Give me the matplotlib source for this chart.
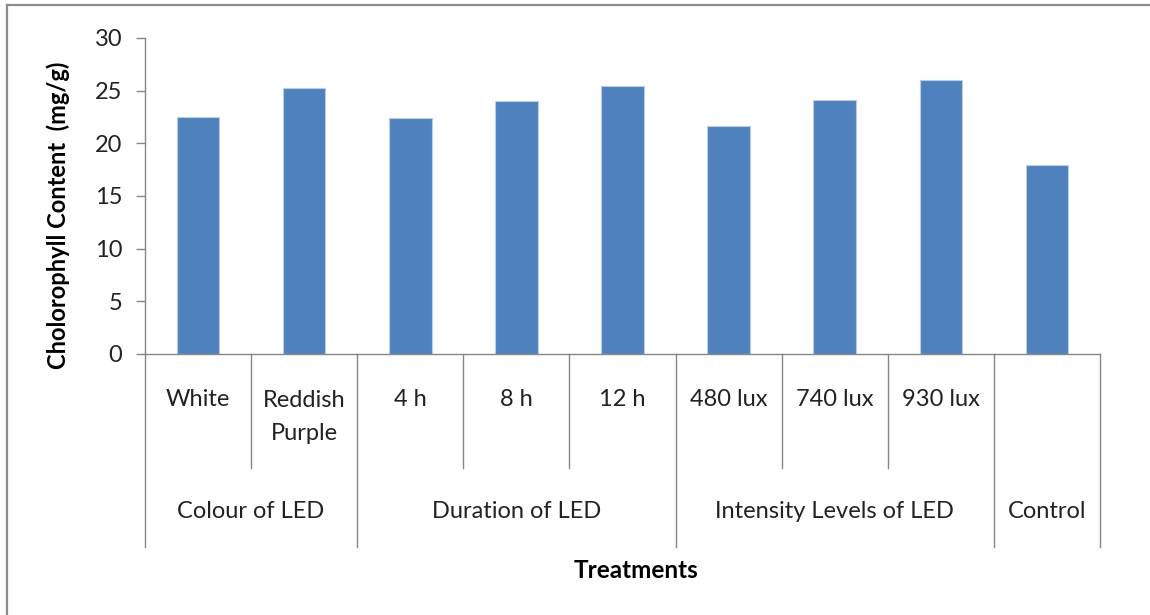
import matplotlib
matplotlib.use('Agg')
import matplotlib.pyplot as plt
import numpy as np
from matplotlib.lines import Line2D

# chart values
treatments = ['White', 'Reddish\nPurple', '4 h', '8 h', '12 h',
              '480 lux', '740 lux', '930 lux', '']
chlorophyll = [22.5, 25.3, 22.4, 24.0, 25.4, 21.6, 24.1, 26.0, 17.9]
groups = ['Colour of LED', 'Duration of LED', 'Intensity Levels of LED', 'Control']
group_sizes = [2, 3, 3, 1]
y_ticks = [0, 5, 10, 15, 20, 25, 30]

plt.rcParams['font.family'] = ['Lato', 'DejaVu Sans']
W, H = 1150, 615
fig = plt.figure(figsize=(W / 100, H / 100), dpi=100)
fs = 17

# axes box in pixel terms
ax_l, ax_r, ax_t, ax_b = 145, 1100, 38, 354
ax = fig.add_axes([ax_l / W, 1 - ax_b / H, (ax_r - ax_l) / W, (ax_b - ax_t) / H])

grey = '#868686'
x = np.arange(len(chlorophyll))
ax.bar(x, chlorophyll, width=0.4, color='#4F81BD', edgecolor='#B9CDE5', linewidth=0.8)
ax.set_xlim(-0.5, len(x) - 0.5)
ax.set_ylim(0, 30)
ax.set_yticks(y_ticks)
ax.tick_params(axis='y', direction='out', length=6.5, width=1, color=grey,
               labelsize=fs, pad=10, labelcolor='#222222')
ax.set_xticks([])
for s in ['top', 'right']:
    ax.spines[s].set_visible(False)
for s in ['left', 'bottom']:
    ax.spines[s].set_color(grey)
    ax.spines[s].set_linewidth(1)


def ay(py):
    # pixel row -> axes fraction
    return (ax_b - py) / (ax_b - ax_t)


tr = ax.get_xaxis_transform()
# category labels
for i, lab in enumerate(treatments):
    if '\n' in lab:
        ax.text(i, ay(417), lab, transform=tr, ha='center', va='center',
                multialignment='center', fontsize=fs, linespacing=1.65,
                clip_on=False, color='#222222')
    else:
        ax.text(i, ay(400), lab, transform=tr, ha='center', va='center',
                fontsize=fs, clip_on=False, color='#222222')

# group labels and dividers
edges = np.concatenate([[0], np.cumsum(group_sizes)]) - 0.5
for g, lo, hi in zip(groups, edges[:-1], edges[1:]):
    ax.text((lo + hi) / 2, ay(512), g, transform=tr, ha='center', va='center',
            fontsize=fs, clip_on=False, color='#222222')
for e in edges:
    ax.add_line(Line2D([e, e], [0, ay(547)], transform=tr, color=grey, lw=1, clip_on=False))
for e in np.arange(-0.5, len(x), 1.0):
    if not np.any(np.isclose(e, edges)):
        ax.add_line(Line2D([e, e], [0, ay(468)], transform=tr, color=grey, lw=1, clip_on=False))

fig.text(636 / W, 1 - 570 / H, 'Treatments', ha='center', va='center',
         fontsize=fs + 0.5, fontweight='bold')
fig.text(58 / W, 1 - 215 / H, 'Cholorophyll Content  (mg/g)', rotation=90,
         ha='center', va='center', fontsize=fs, fontweight='bold')

# frame on top and left edges
fig.add_artist(Line2D([7 / W, 7 / W], [0, 1 - 5 / H], transform=fig.transFigure,
                      color='#8c8c8c', lw=1.6))
fig.add_artist(Line2D([7 / W, 1], [1 - 5 / H, 1 - 5 / H], transform=fig.transFigure,
                      color='#8c8c8c', lw=1.6))

fig.savefig('out.png', dpi=100)
